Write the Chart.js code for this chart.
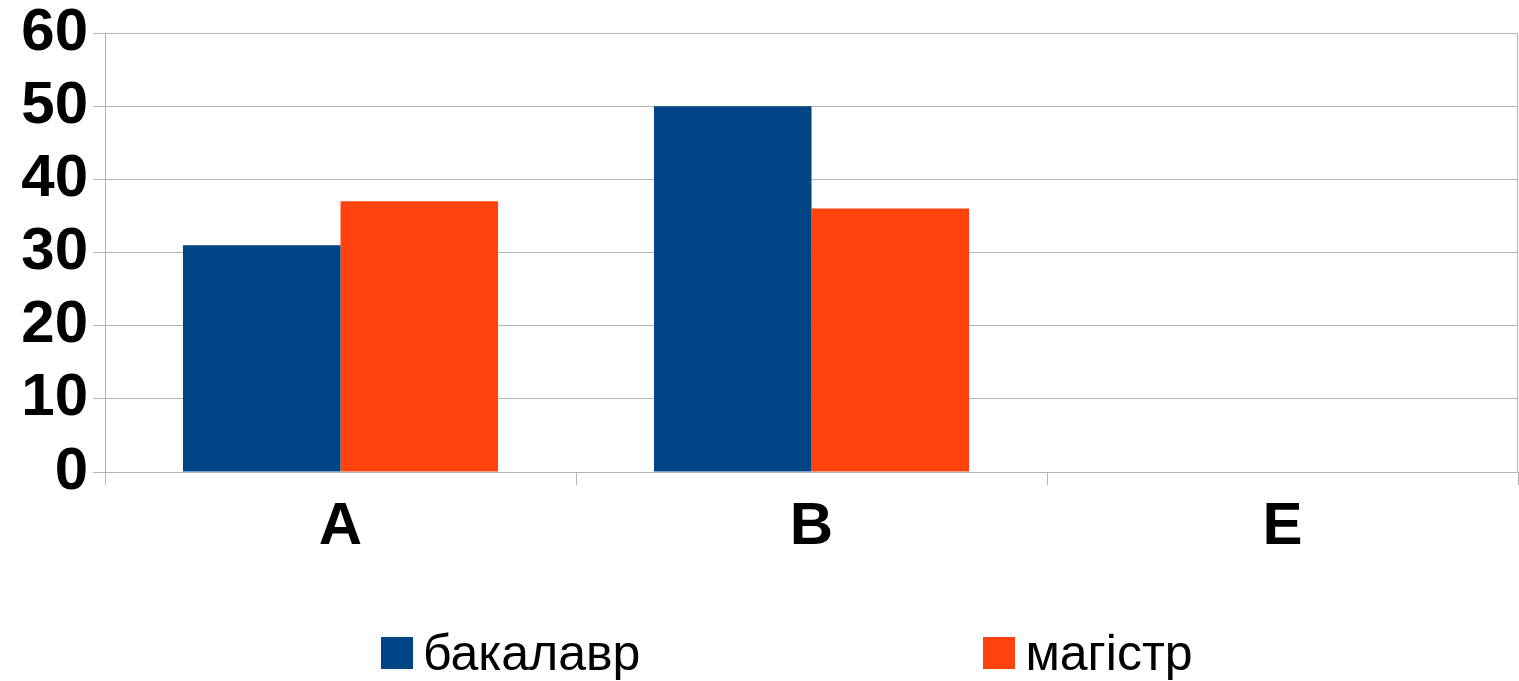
<!DOCTYPE html>
<html>
<head>
<meta charset="utf-8">
<script src="https://cdn.jsdelivr.net/npm/chart.js@4"></script>
<style>
  body { margin: 0; background: #fff; }
  #wrap { position: relative; width: 1519px; height: 681px; }
  #legend { position: absolute; left: 381px; top: 624px; display: flex; gap: 343px;
            font-family: "Liberation Sans", Arial, sans-serif; font-size: 50px; color: #000; }
  #legend .item { display: flex; align-items: center; }
  #legend .box { width: 32px; height: 32px; margin-right: 10px; }
</style>
</head>
<body>
<div id="wrap">
  <canvas id="chart" width="1519" height="681"></canvas>
  <div id="legend"></div>
</div>
<script>
const categories = ["A", "B", "E"];
const seriesNames = ["бакалавр", "магістр"];
const bachelor = [31, 50, 0];
const master = [37, 36, 0];
const colors = ["#004586", "#ff420e"];

// right edge of the plot area
const frameLine = {
    id: "frameLine",
    afterDraw(chart) {
        const a = chart.chartArea;
        const c = chart.ctx;
        c.save();
        c.strokeStyle = "#b3b3b3";
        c.lineWidth = 1;
        c.beginPath();
        c.moveTo(a.right - 0.5, a.top);
        c.lineTo(a.right - 0.5, a.bottom);
        c.stroke();
        c.restore();
    }
};

const ctx = document.getElementById("chart").getContext("2d");
const chart = new Chart(ctx, {
    type: "bar",
    data: {
        labels: categories,
        datasets: [
            { label: seriesNames[0], data: bachelor, backgroundColor: colors[0] },
            { label: seriesNames[1], data: master, backgroundColor: colors[1] }
        ]
    },
    options: {
        responsive: false,
        animation: false,
        layout: { padding: { top: 33, right: 1, bottom: 112, left: 0 } },
        datasets: { bar: { categoryPercentage: 0.669, barPercentage: 1 } },
        plugins: { legend: { display: false }, tooltip: { enabled: false } },
        scales: {
            x: {
                grid: { offset: true, drawOnChartArea: false, drawTicks: true, tickLength: 13, color: "#b3b3b3" },
                border: { color: "#b3b3b3" },
                ticks: { color: "#000", padding: 6, font: { family: "Liberation Sans", size: 60, weight: "bold" } }
            },
            y: {
                min: 0,
                max: 60,
                ticks: { stepSize: 10, autoSkip: false, color: "#000", padding: 5, font: { family: "Liberation Sans", size: 60, weight: "bold" } },
                grid: { color: "#b3b3b3", tickLength: 12 },
                border: { color: "#b3b3b3" },
                afterFit(scale) {
                    scale.width = 105;
                    scale.paddingTop = 0;
                    scale.paddingBottom = 0;
                }
            }
        }
    },
    plugins: [frameLine]
});

const legend = document.getElementById("legend");
seriesNames.forEach((name, i) => {
    const item = document.createElement("div");
    item.className = "item";
    item.innerHTML = `<span class="box" style="background:${colors[i]}"></span><span>${name}</span>`;
    legend.appendChild(item);
});
</script>
</body>
</html>
